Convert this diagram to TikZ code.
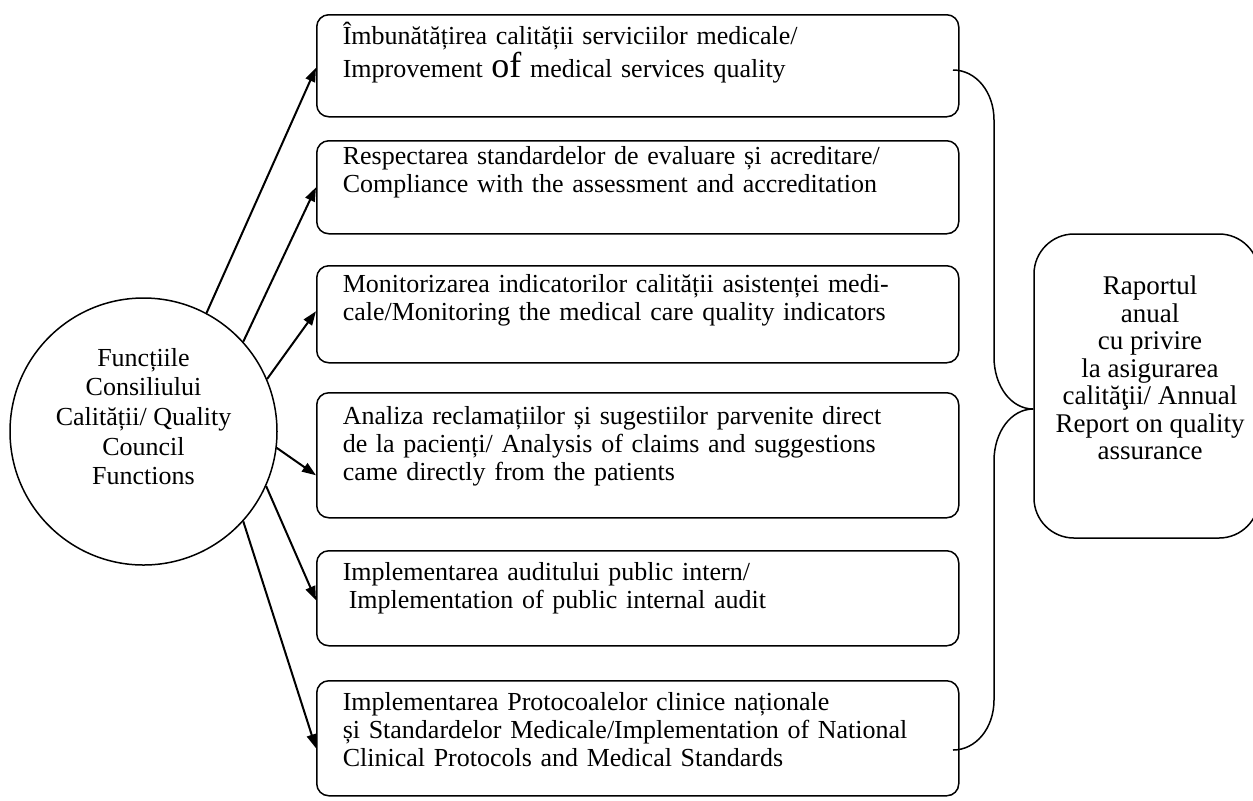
\documentclass[tikz,border=0pt]{standalone}
\usepackage{fontspec}
\setmainfont{Liberation Serif}
\usetikzlibrary{arrows.meta,calc}

\begin{document}
\begin{tikzpicture}[x=0.5pt,y=-0.5pt,line width=0.75pt]
    \tikzstyle{council}=[circle,draw,minimum size=133.5pt,inner sep=0pt]
    \tikzstyle{function box}=[draw,rounded corners=6pt,anchor=north west,text width=295pt,minimum width=321pt,inner xsep=13pt,inner ysep=0pt,align=left,font=\fontsize{13}{14}\selectfont]
    \tikzstyle{report box}=[draw,rounded corners=20pt,minimum width=112.5pt,minimum height=152pt,inner sep=0pt]
    \tikzstyle{annot}=[align=center,inner sep=0pt]
    \tikzstyle{link}=[line width=1pt,-{Triangle[length=7pt,width=5pt]}]

    \useasboundingbox (0,0) rectangle (1253,800);

    % Draw the council circle
    \node[council] (C) at (143.5,431.5) {};
    \node[annot,font=\fontsize{13}{14.8}\selectfont] (C-text) at (143.5,416.5)
        {Funcțiile\\Consiliului\\Calității/ Quality\\Council\\Functions};

    % Draw the function boxes
    \node[function box,text height=15pt,text depth=36pt] (F-1) at (316,14)
        {Îmbunătățirea calității serviciilor medicale/\\Improvement {\fontsize{18}{14}\selectfont of} medical services quality};
    \node[function box,text height=12pt,text depth=34.5pt] (F-2) at (316,140)
        {Respectarea standardelor de evaluare și acreditare/\\Compliance with the assessment and accreditation};
    \node[function box,text height=13.5pt,text depth=35pt] (F-3) at (316,265)
        {Monitorizarea indicatorilor calității asistenței medi-\\cale/Monitoring the medical care quality indicators};
    \node[function box,text height=16pt,text depth=46.5pt] (F-4) at (316,392)
        {Analiza reclamațiilor și sugestiilor parvenite direct\\de la pacienți/ Analysis of claims and suggestions\\came directly from the patients};
    \node[function box,text height=15pt,text depth=32.5pt] (F-5) at (316,550)
        {Implementarea auditului public intern/\\\hspace*{3pt}Implementation of public internal audit};
    \node[function box,text height=15pt,text depth=42.5pt] (F-6) at (316,680)
        {Implementarea Protocoalelor clinice naționale\\și Standardelor Medicale/Implementation of National\\Clinical Protocols and Medical Standards};

    % Connect the circle with every function box
    \draw[link] (C.62) -- ($(F-1.west)+(0,2)$);
    \draw[link] (C.42) -- (F-2.west);
    \draw[link] (C.23) -- ($(F-3.west)+(0,-3)$);
    \draw[link] (C.-7) -- ($(F-4.west)+(0,20)$);
    \draw[link] (C.-24.5) -- ($(F-5.west)+(0,2)$);
    \draw[link] (C.-42) -- ($(F-6.west)+(0,10)$);

    % Draw the report box
    \node[report box] (R) at (1146.5,386) {};
    \node[annot,font=\fontsize{13.5}{13.75}\selectfont] (R-text) at (1150,368)
        {Raportul\\anual\\cu privire\\la asigurarea\\calităţii/ Annual\\Report on quality\\assurance};

    % Brace from the boxes to the report
    \coordinate (B-top) at (953,70);
    \coordinate (B-tip) at (R.west |- 0,409);
    \coordinate (B-bot) at (953,750);
    \draw (B-top) .. controls (976,70) and (994,92) .. (994,120) -- (994,357)
        .. controls (994,386) and (1011,409) .. (B-tip)
        .. controls (1011,409) and (994,432) .. (994,461) -- (994,700)
        .. controls (994,728) and (976,750) .. (B-bot);
\end{tikzpicture}
\end{document}
